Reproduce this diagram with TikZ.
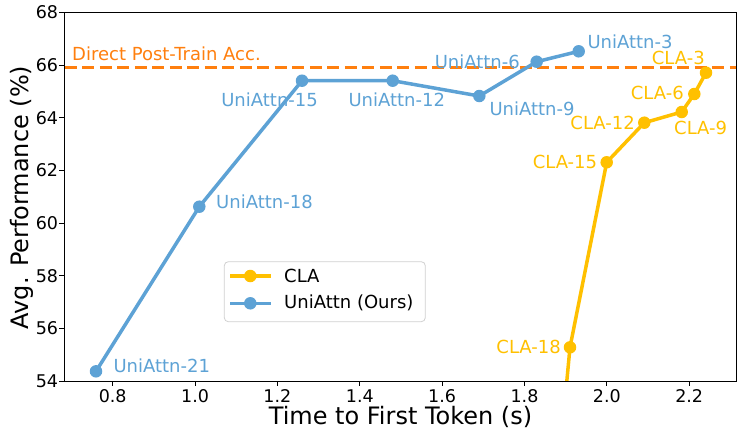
\documentclass[tikz,border=0pt]{standalone}
\usepackage{fontspec}
\setmainfont{DejaVu Sans}
\definecolor{uniblue}{HTML}{5DA2D5}
\definecolor{clayellow}{HTML}{FFC000}
\definecolor{dorange}{HTML}{FF7F0E}
\definecolor{legedge}{HTML}{D0D0D0}
\begin{document}
\begin{tikzpicture}[x=1pt,y=-1pt,
  mk/.style={circle,fill=#1,inner sep=0pt,minimum size=12.5pt},
  serieslw/.style={line width=3.5pt,line join=round,line cap=round},
  lbl/.style={font=\fontsize{18}{20}\selectfont,inner sep=0pt,text=#1},
  ticklbl/.style={font=\fontsize{17.5}{20}\selectfont,inner sep=0pt},
  axtitle/.style={font=\fontsize{24}{28}\selectfont,inner sep=0pt},
  tickmark/.style={line width=0.9pt,black}]
\useasboundingbox (0,0) rectangle (737,429);
% axes corners
\coordinate (ax-sw) at (64.3,381.3);
\coordinate (ax-ne) at (736,12.3);
% x ticks
\foreach \v/\px in {0.8/112.7,1.0/195.1,1.2/277.4,1.4/359.8,1.6/442.1,1.8/524.5,2.0/606.9,2.2/689.2}{
  \draw[tickmark] (\px,381.3) -- (\px,386.3);
  \node[ticklbl,anchor=north] (xt-\v) at (\px,389.3) {\v};
}
% y ticks
\foreach \v/\py in {68/12.3,66/65.0,64/117.7,62/170.4,60/223.1,58/275.9,56/328.6,54/381.3}{
  \draw[tickmark] (59.3,\py) -- (64.3,\py);
  \node[ticklbl,anchor=east] (yt-\v) at (58.3,\py) {\v};
}
% axis titles
\node[axtitle,anchor=base] (xtitle) at (400.5,424.3) {Time to First Token (s)};
\node[axtitle,anchor=base,rotate=90] (ytitle) at (28,197.5) {Avg. Performance (\%)};
% reference line
\coordinate (ref-l) at (64.8,67.7);
\coordinate (ref-r) at (736,67.7);
\draw[dorange,line width=3pt,dash pattern=on 12pt off 5.5pt] (ref-l) -- (ref-r);
\node[lbl=dorange,anchor=west] (reflbl) at (72,53.5) {Direct Post-Train Acc.};
% UniAttn data
\coordinate (u21) at (96,371.3);
\coordinate (u18) at (199.3,206.7);
\coordinate (u15) at (302,80.7);
\coordinate (u12) at (392.7,80.7);
\coordinate (u9) at (479.3,96);
\coordinate (u6) at (536.7,61.7);
\coordinate (u3) at (578.7,51.3);
\draw[uniblue,serieslw] (u21) -- (u18) -- (u15) -- (u12) -- (u9) -- (u6) -- (u3);
\foreach \p in {u21,u18,u15,u12,u9,u6,u3}{\node[mk=uniblue] (m-\p) at (\p) {};}
% CLA data
\coordinate (c3) at (706,72.7);
\coordinate (c6) at (694.3,94);
\coordinate (c9) at (681.7,112);
\coordinate (c12) at (644.3,122.7);
\coordinate (c15) at (606.7,162.3);
\coordinate (c18) at (570,347.3);
\coordinate (c21) at (565.5,395);
\begin{scope}
\clip (ax-sw) rectangle (ax-ne);
\draw[clayellow,serieslw] (c21) -- (c18) -- (c15) -- (c12) -- (c9) -- (c6) -- (c3);
\end{scope}
\foreach \p in {c18,c15,c12,c9,c6,c3}{\node[mk=clayellow] (m-\p) at (\p) {};}
% frame
\draw[line width=0.9pt,black] (ax-sw) rectangle (ax-ne);
% UniAttn labels
\node[lbl=uniblue,anchor=west] (l-u3) at (587.3,41.7) {UniAttn-3};
\node[lbl=uniblue,anchor=east] (l-u6) at (520,61.7) {UniAttn-6};
\node[lbl=uniblue,anchor=west] (l-u9) at (489.3,108.3) {UniAttn-9};
\node[lbl=uniblue,anchor=west] (l-u12) at (348.3,99.3) {UniAttn-12};
\node[lbl=uniblue,anchor=east] (l-u15) at (318,99.3) {UniAttn-15};
\node[lbl=uniblue,anchor=west] (l-u18) at (216,202) {UniAttn-18};
\node[lbl=uniblue,anchor=west] (l-u21) at (113.3,365.7) {UniAttn-21};
% CLA labels
\node[lbl=clayellow,anchor=east] (l-c3) at (705,58.3) {CLA-3};
\node[lbl=clayellow,anchor=east] (l-c6) at (684,93.3) {CLA-6};
\node[lbl=clayellow,anchor=west] (l-c9) at (674,127.7) {CLA-9};
\node[lbl=clayellow,anchor=east] (l-c12) at (635,122.7) {CLA-12};
\node[lbl=clayellow,anchor=east] (l-c15) at (597.3,161.7) {CLA-15};
\node[lbl=clayellow,anchor=east] (l-c18) at (561,346.7) {CLA-18};
% legend
\draw[legedge,fill=white,fill opacity=0.85,line width=0.8pt,rounded corners=4pt] (224.3,261.7) rectangle (425.3,321.7);
\coordinate (lg1-a) at (230,276);
\coordinate (lg1-b) at (270.7,276);
\coordinate (lg2-a) at (230,303.3);
\coordinate (lg2-b) at (270.7,303.3);
\draw[clayellow,line width=3.5pt] (lg1-a) -- (lg1-b);
\node[mk=clayellow] (lg1-m) at (250.3,276) {};
\draw[uniblue,line width=3.5pt] (lg2-a) -- (lg2-b);
\node[mk=uniblue] (lg2-m) at (250.3,303.3) {};
\node[lbl=black,anchor=west] (lg1-t) at (284,276) {CLA};
\node[lbl=black,anchor=west] (lg2-t) at (284,303.3) {UniAttn (Ours)};
\end{tikzpicture}
\end{document}
